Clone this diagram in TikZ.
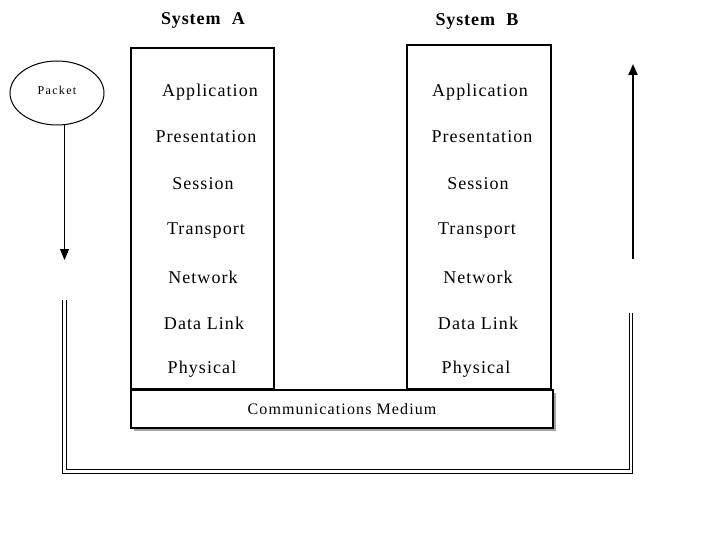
\documentclass[tikz,border=0pt]{standalone}
\usepackage{fontspec}
\setmainfont{Liberation Serif}
\usetikzlibrary{arrows.meta,shadows,shapes.geometric}
\begin{document}
\begin{tikzpicture}[x=1pt,y=-1pt,
  sysbox/.style={draw, line width=2.4pt, inner sep=0pt},
  layer/.style={font=\fontsize{18}{20}\selectfont\addfontfeature{LetterSpace=6}, inner sep=0pt},
  title/.style={font=\bfseries\fontsize{18}{20}\selectfont\addfontfeature{LetterSpace=5}, inner sep=0pt},
  medium/.style={draw, line width=1.4pt, fill=white, inner sep=0pt,
    minimum width=422pt, minimum height=38pt,
    font=\fontsize{16}{18}\selectfont\addfontfeature{LetterSpace=7},
    drop shadow={shadow xshift=3pt, shadow yshift=-3pt, fill=gray!70, opacity=1}},
  dline/.style={double, double distance=2.6pt, line width=1pt},
  tip/.style={-{Triangle[length=11pt,width=9pt]}}]
\useasboundingbox (0,0) rectangle (720,540);
\node[title] (tA) at (203,20) {System\,\, A};
\node[title] (tB) at (477,21) {System\,\, B};
\node[sysbox, minimum width=143pt, minimum height=341pt] (boxA) at (202.5,218.5) {};
\node[sysbox, minimum width=144pt, minimum height=344pt] (boxB) at (479,217) {};
\node[medium] (med) at (342,409) {Communications Medium};
\node[layer] (a1) at (210,92) {Application};
\node[layer] (a2) at (206,137) {Presentation};
\node[layer] (a3) at (203,184) {Session};
\node[layer] (a4) at (206,231) {Transport};
\node[layer] (a5) at (203,277) {Network};
\node[layer] (a6) at (204,323) {Data Link};
\node[layer] (a7) at (202,369) {Physical};
\node[layer] (b1) at (480,92) {Application};
\node[layer] (b2) at (482,137) {Presentation};
\node[layer] (b3) at (478,184) {Session};
\node[layer] (b4) at (477,231) {Transport};
\node[layer] (b5) at (478,277) {Network};
\node[layer] (b6) at (478,323) {Data Link};
\node[layer] (b7) at (476,369) {Physical};
\node[draw, ellipse, line width=1pt, minimum width=94pt, minimum height=64pt] (pkt) at (57,93) {};
\node[font=\fontsize{12}{14}\selectfont\addfontfeature{LetterSpace=11}, inner sep=0pt] (pktt) at (57,90) {Packet};
\coordinate (downend) at (64.5,260);
\draw[line width=0.9pt, tip] (pkt.south -| downend) -- (downend);
\coordinate (upstart) at (633,259);
\coordinate (upend) at (633,64);
\draw[line width=2pt, tip] (upstart) -- (upend);
\coordinate (l1) at (64.5,300);
\coordinate (l2) at (64.5,471.5);
\coordinate (l3) at (631,471.5);
\coordinate (l4) at (631,313);
\draw[dline] (l1) -- (l2) -- (l3) -- (l4);
\end{tikzpicture}
\end{document}
